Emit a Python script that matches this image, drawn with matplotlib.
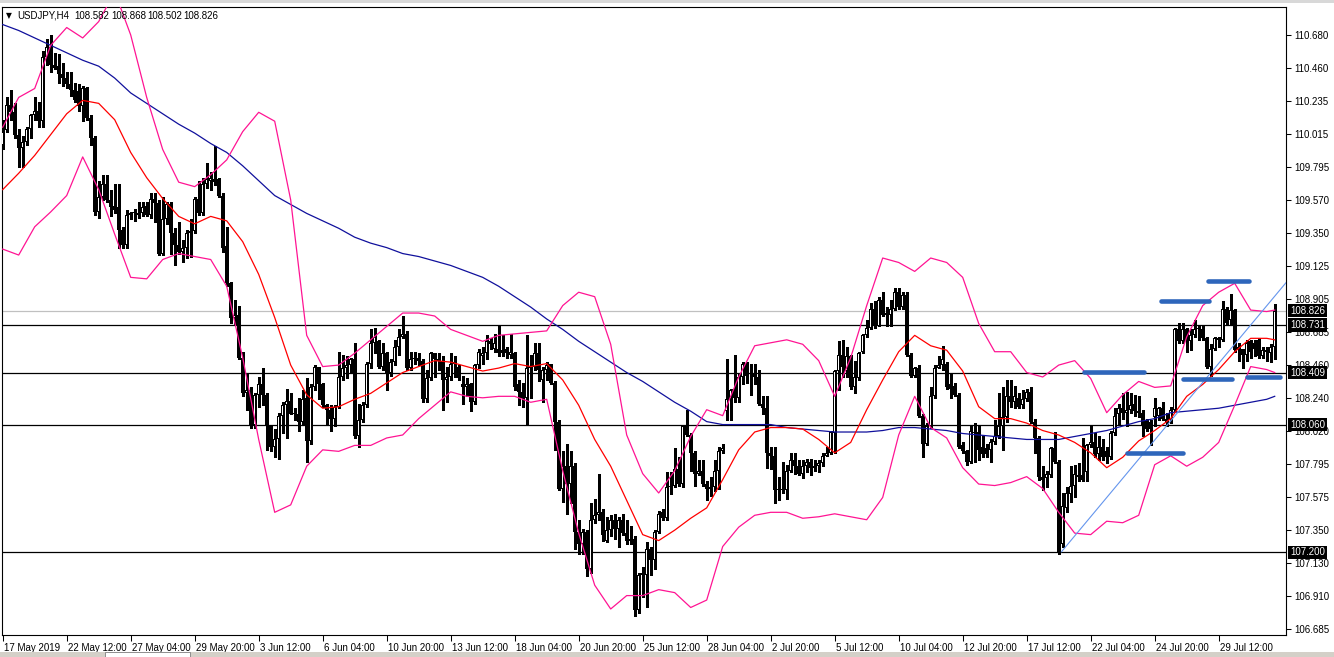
import numpy as np
import matplotlib
matplotlib.use("Agg")
import matplotlib.pyplot as plt
from matplotlib.transforms import blended_transform_factory, ScaledTranslation
from matplotlib.patches import Rectangle

plt.rcParams['font.family'] = ['Liberation Sans', 'DejaVu Sans']

symbol_title = "USDJPY,H4"
header_values = ["108.582", "108.868", "108.502", "108.826"]

opens = [
109.94, 110.04, 110.21, 110.16, 110.01, 109.92, 109.96, 110.05, 110.14, 110.17,
110.10, 110.53, 110.60, 110.48, 110.47, 110.42, 110.39, 110.35, 110.31, 110.30,
110.20, 110.32, 110.12, 109.99, 109.49, 109.59, 109.68, 109.57, 109.53, 109.52,
109.37, 109.27, 109.47, 109.48, 109.47, 109.48, 109.53, 109.47, 109.58, 109.55,
109.21, 109.44, 109.54, 109.35, 109.27, 109.22, 109.25, 109.35, 109.36, 109.58,
109.48, 109.68, 109.70, 109.71, 109.71, 109.60, 109.26, 109.01, 108.78, 108.80,
108.51, 108.27, 108.29, 108.06, 108.26, 108.33, 108.26, 108.05, 107.91, 107.96,
108.12, 108.19, 108.22, 108.13, 108.13, 108.08, 108.24, 107.95, 108.31, 108.45,
108.33, 108.19, 108.16, 108.10, 108.18, 108.38, 108.44, 108.46, 108.50, 107.98,
108.09, 108.19, 108.47, 108.61, 108.62, 108.45, 108.54, 108.41, 108.48, 108.58,
108.65, 108.67, 108.44, 108.50, 108.51, 108.49, 108.23, 108.37, 108.54, 108.50,
108.49, 108.36, 108.38, 108.47, 108.45, 108.33, 108.31, 108.33, 108.21, 108.46,
108.52, 108.54, 108.62, 108.57, 108.57, 108.56, 108.57, 108.53, 108.54, 108.33,
108.28, 108.24, 108.44, 108.45, 108.54, 108.36, 108.43, 108.47, 108.34, 108.08,
107.63, 107.78, 107.66, 107.78, 107.34, 107.26, 107.34, 107.09, 107.42, 107.45,
107.47, 107.28, 107.35, 107.42, 107.36, 107.42, 107.33, 107.28, 107.29, 106.81,
107.05, 107.05, 107.22, 107.15, 107.34, 107.47, 107.43, 107.64, 107.65, 107.76,
107.66, 108.05, 107.99, 107.87, 107.73, 107.75, 107.66, 107.63, 107.64, 107.75,
107.88, 108.15, 108.23, 108.29, 108.24, 108.38, 108.47, 108.41, 108.41, 108.38,
108.20, 108.17, 107.87, 107.85, 107.62, 107.63, 107.62, 107.75, 107.82, 107.78,
107.73, 107.78, 107.81, 107.77, 107.78, 107.80, 107.85, 107.87, 108.00, 108.42,
108.53, 108.42, 108.52, 108.31, 108.37, 108.55, 108.66, 108.71, 108.84, 108.72,
108.90, 108.80, 108.80, 108.84, 108.95, 108.85, 108.93, 108.53, 108.39, 108.44,
108.12, 107.93, 108.05, 108.25, 108.44, 108.46, 108.47, 108.33, 108.32, 108.26,
107.92, 107.88, 107.81, 108.00, 108.01, 107.91, 107.90, 107.89, 107.94, 107.98,
108.05, 108.11, 108.25, 108.21, 108.24, 108.19, 108.23, 108.28, 108.08, 107.97,
107.71, 107.70, 107.72, 107.90, 107.81, 107.26, 107.50, 107.59, 107.65, 107.72,
107.72, 107.74, 107.92, 107.94, 107.86, 107.91, 107.88, 107.84, 108.00, 108.13,
108.17, 108.14, 108.16, 108.20, 108.15, 108.14, 108.09, 108.08, 108.11, 108.12,
108.17, 108.10, 108.09, 108.16, 108.70, 108.62, 108.70, 108.62, 108.66, 108.70,
108.70, 108.64, 108.45, 108.57, 108.63, 108.63, 108.84, 108.76, 108.83, 108.58,
108.57, 108.53, 108.62, 108.61, 108.63, 108.52, 108.55, 108.54, 108.582]

highs = [
110.11, 110.26, 110.31, 110.22, 110.05, 110.00, 110.06, 110.15, 110.26, 110.23,
110.57, 110.65, 110.68, 110.56, 110.55, 110.49, 110.43, 110.43, 110.36, 110.35,
110.34, 110.33, 110.14, 110.00, 109.70, 109.74, 109.74, 109.64, 109.68, 109.68,
109.39, 109.50, 109.49, 109.51, 109.56, 109.56, 109.56, 109.62, 109.62, 109.57,
109.59, 109.56, 109.56, 109.38, 109.42, 109.30, 109.37, 109.44, 109.59, 109.70,
109.72, 109.82, 109.76, 109.93, 109.72, 109.62, 109.39, 109.02, 108.90, 108.86,
108.55, 108.41, 108.31, 108.27, 108.38, 108.44, 108.27, 108.06, 108.03, 108.14,
108.21, 108.30, 108.27, 108.17, 108.24, 108.29, 108.37, 108.33, 108.46, 108.45,
108.34, 108.20, 108.19, 108.19, 108.55, 108.53, 108.52, 108.51, 108.61, 108.20,
108.21, 108.48, 108.70, 108.71, 108.63, 108.61, 108.55, 108.50, 108.63, 108.70,
108.79, 108.69, 108.55, 108.55, 108.54, 108.50, 108.43, 108.55, 108.54, 108.54,
108.52, 108.45, 108.54, 108.52, 108.46, 108.39, 108.37, 108.34, 108.47, 108.57,
108.58, 108.66, 108.64, 108.67, 108.72, 108.66, 108.58, 108.67, 108.55, 108.36,
108.34, 108.66, 108.53, 108.61, 108.61, 108.45, 108.48, 108.47, 108.35, 108.09,
107.88, 107.93, 107.88, 107.80, 107.42, 107.36, 107.35, 107.53, 107.56, 107.73,
107.49, 107.44, 107.45, 107.46, 107.44, 107.46, 107.42, 107.38, 107.31, 107.06,
107.10, 107.27, 107.24, 107.35, 107.48, 107.49, 107.74, 107.74, 107.90, 107.84,
108.06, 108.16, 108.00, 107.88, 107.82, 107.82, 107.68, 107.71, 107.82, 107.91,
107.93, 108.50, 108.30, 108.53, 108.40, 108.48, 108.48, 108.47, 108.47, 108.43,
108.25, 108.25, 107.91, 107.91, 107.71, 107.81, 107.79, 107.87, 107.87, 107.82,
107.82, 107.83, 107.83, 107.82, 107.82, 107.87, 107.91, 108.02, 108.43, 108.62,
108.63, 108.58, 108.53, 108.49, 108.55, 108.67, 108.76, 108.88, 108.89, 108.92,
108.95, 108.85, 108.90, 108.98, 108.98, 108.95, 108.95, 108.54, 108.45, 108.46,
108.13, 108.07, 108.31, 108.46, 108.52, 108.59, 108.48, 108.40, 108.34, 108.27,
107.94, 107.89, 108.05, 108.07, 108.05, 107.98, 107.93, 107.96, 108.09, 108.27,
108.31, 108.36, 108.36, 108.32, 108.27, 108.29, 108.30, 108.31, 108.10, 107.98,
107.78, 107.75, 107.91, 108.01, 107.82, 107.60, 107.64, 107.78, 107.79, 107.80,
107.97, 107.93, 108.05, 108.00, 107.98, 107.96, 107.91, 108.02, 108.17, 108.20,
108.27, 108.28, 108.27, 108.26, 108.25, 108.16, 108.10, 108.09, 108.24, 108.18,
108.21, 108.14, 108.18, 108.71, 108.74, 108.74, 108.71, 108.70, 108.76, 108.73,
108.73, 108.65, 108.60, 108.65, 108.65, 108.89, 108.85, 108.94, 108.84, 108.61,
108.57, 108.63, 108.63, 108.63, 108.64, 108.58, 108.58, 108.60, 108.868]

lows = [
109.91, 110.03, 110.11, 109.99, 109.79, 109.79, 109.94, 109.99, 110.11, 110.06,
110.06, 110.48, 110.43, 110.45, 110.36, 110.34, 110.32, 110.27, 110.23, 110.17,
110.10, 110.11, 109.94, 109.47, 109.45, 109.57, 109.56, 109.46, 109.48, 109.25,
109.25, 109.25, 109.44, 109.43, 109.45, 109.46, 109.46, 109.45, 109.42, 109.20,
109.20, 109.41, 109.21, 109.13, 109.21, 109.15, 109.18, 109.19, 109.35, 109.47,
109.47, 109.65, 109.64, 109.67, 109.59, 109.22, 108.99, 108.74, 108.73, 108.50,
108.25, 108.16, 108.04, 108.04, 108.18, 108.19, 107.89, 107.88, 107.84, 107.83,
108.00, 107.97, 108.13, 108.09, 108.02, 108.06, 107.81, 107.93, 108.29, 108.23,
108.18, 108.06, 108.02, 108.05, 108.17, 108.36, 108.37, 108.41, 107.97, 107.91,
108.08, 108.18, 108.44, 108.54, 108.44, 108.43, 108.29, 108.39, 108.46, 108.53,
108.64, 108.43, 108.43, 108.47, 108.46, 108.21, 108.21, 108.36, 108.38, 108.43,
108.16, 108.21, 108.36, 108.38, 108.36, 108.20, 108.25, 108.15, 108.20, 108.44,
108.47, 108.50, 108.57, 108.55, 108.52, 108.52, 108.51, 108.51, 108.29, 108.19,
108.18, 108.06, 108.24, 108.43, 108.35, 108.21, 108.36, 108.33, 107.89, 107.62,
107.54, 107.46, 107.53, 107.22, 107.19, 107.19, 107.04, 107.06, 107.40, 107.42,
107.28, 107.27, 107.31, 107.29, 107.24, 107.32, 107.26, 107.26, 106.77, 106.79,
106.90, 106.83, 107.05, 107.09, 107.33, 107.42, 107.42, 107.59, 107.64, 107.65,
107.64, 107.98, 107.75, 107.65, 107.72, 107.65, 107.55, 107.58, 107.61, 107.63,
107.87, 108.09, 108.09, 108.21, 108.21, 108.33, 108.34, 108.26, 108.33, 108.19,
108.13, 107.77, 107.76, 107.53, 107.55, 107.60, 107.56, 107.74, 107.73, 107.72,
107.70, 107.74, 107.72, 107.75, 107.74, 107.78, 107.85, 107.86, 107.87, 108.29,
108.38, 108.38, 108.30, 108.27, 108.36, 108.54, 108.65, 108.70, 108.71, 108.72,
108.79, 108.72, 108.72, 108.83, 108.84, 108.84, 108.52, 108.38, 108.38, 108.11,
107.84, 107.92, 108.04, 108.24, 108.44, 108.43, 108.30, 108.24, 108.25, 107.90,
107.87, 107.79, 107.80, 107.81, 107.82, 107.84, 107.84, 107.81, 107.93, 107.97,
107.89, 108.08, 108.18, 108.17, 108.17, 108.17, 108.22, 108.07, 107.87, 107.69,
107.62, 107.64, 107.71, 107.80, 107.19, 107.24, 107.47, 107.54, 107.57, 107.68,
107.68, 107.68, 107.91, 107.84, 107.82, 107.82, 107.80, 107.83, 107.99, 108.06,
108.10, 108.05, 108.14, 108.12, 108.11, 107.98, 108.02, 107.92, 108.05, 108.09,
108.09, 108.05, 108.07, 108.15, 108.61, 108.61, 108.55, 108.56, 108.65, 108.63,
108.63, 108.44, 108.39, 108.56, 108.58, 108.62, 108.73, 108.73, 108.55, 108.49,
108.44, 108.49, 108.51, 108.52, 108.51, 108.51, 108.49, 108.48, 108.502]

closes = [
110.03, 110.21, 110.16, 110.01, 109.92, 109.96, 110.05, 110.14, 110.17, 110.10,
110.53, 110.60, 110.48, 110.46, 110.42, 110.39, 110.35, 110.31, 110.24, 110.20,
110.32, 110.12, 109.99, 109.49, 109.59, 109.68, 109.57, 109.52, 109.50, 109.37,
109.27, 109.47, 109.48, 109.49, 109.48, 109.52, 109.47, 109.58, 109.55, 109.21,
109.44, 109.54, 109.35, 109.27, 109.22, 109.25, 109.35, 109.36, 109.58, 109.48,
109.68, 109.71, 109.72, 109.69, 109.60, 109.25, 109.01, 108.78, 108.80, 108.51,
108.27, 108.29, 108.06, 108.26, 108.33, 108.26, 108.05, 107.91, 107.96, 108.12,
108.19, 108.22, 108.13, 108.14, 108.08, 108.23, 107.95, 108.31, 108.45, 108.33,
108.19, 108.16, 108.10, 108.18, 108.38, 108.44, 108.46, 108.50, 107.98, 108.09,
108.19, 108.47, 108.61, 108.65, 108.45, 108.54, 108.41, 108.48, 108.58, 108.65,
108.67, 108.44, 108.50, 108.51, 108.49, 108.23, 108.37, 108.54, 108.50, 108.49,
108.36, 108.38, 108.47, 108.48, 108.37, 108.31, 108.33, 108.21, 108.46, 108.55,
108.54, 108.62, 108.60, 108.61, 108.54, 108.54, 108.54, 108.55, 108.31, 108.28,
108.24, 108.44, 108.45, 108.54, 108.43, 108.43, 108.46, 108.34, 108.08, 107.63,
107.78, 107.66, 107.78, 107.34, 107.26, 107.34, 107.09, 107.42, 107.45, 107.47,
107.32, 107.35, 107.42, 107.36, 107.42, 107.33, 107.28, 107.29, 106.81, 107.05,
107.06, 107.22, 107.15, 107.34, 107.46, 107.43, 107.64, 107.65, 107.76, 107.66,
108.05, 107.99, 107.87, 107.73, 107.75, 107.66, 107.63, 107.64, 107.75, 107.88,
107.90, 108.23, 108.29, 108.24, 108.38, 108.47, 108.39, 108.40, 108.38, 108.20,
108.17, 107.87, 107.85, 107.62, 107.63, 107.62, 107.75, 107.82, 107.78, 107.73,
107.78, 107.81, 107.77, 107.78, 107.80, 107.85, 107.87, 108.01, 108.42, 108.53,
108.45, 108.52, 108.31, 108.38, 108.54, 108.66, 108.71, 108.84, 108.72, 108.90,
108.80, 108.81, 108.84, 108.95, 108.85, 108.93, 108.53, 108.39, 108.44, 108.12,
107.93, 108.05, 108.25, 108.44, 108.46, 108.50, 108.31, 108.30, 108.26, 107.91,
107.88, 107.81, 108.02, 108.01, 107.89, 107.86, 107.86, 107.94, 107.98, 108.05,
108.11, 108.25, 108.21, 108.25, 108.18, 108.23, 108.28, 108.08, 107.97, 107.71,
107.69, 107.73, 107.90, 107.81, 107.20, 107.51, 107.60, 107.65, 107.73, 107.71,
107.69, 107.92, 107.94, 107.86, 107.91, 107.84, 107.84, 108.00, 108.12, 108.17,
108.14, 108.16, 108.19, 108.15, 108.14, 108.05, 108.03, 108.03, 108.17, 108.17,
108.10, 108.07, 108.16, 108.70, 108.62, 108.70, 108.62, 108.66, 108.70, 108.705,
108.64, 108.45, 108.57, 108.64, 108.64, 108.84, 108.74, 108.83, 108.56, 108.56,
108.53, 108.61, 108.55, 108.57, 108.52, 108.56, 108.56, 108.58, 108.826]

# indicator readings every 4 bars (last one at the final bar)
ind_bars = list(range(0, 317, 4)) + [318]

bb_upper = [
110.06, 110.26, 110.32, 110.61, 110.73, 110.66, 110.77, 110.97, 110.68, 110.26,
109.91, 109.69, 109.66, 109.74, 109.84, 110.03, 110.16, 110.10, 109.57, 108.66,
108.45, 108.46, 108.54, 108.63, 108.72, 108.81, 108.81, 108.79, 108.70, 108.66,
108.62, 108.66, 108.67, 108.68, 108.69, 108.86, 108.95, 108.92, 108.60, 107.99,
107.73, 107.60, 107.75, 107.98, 108.16, 108.12, 108.38, 108.59, 108.61, 108.63,
108.60, 108.49, 108.25, 108.51, 108.86, 109.18, 109.15, 109.09, 109.18, 109.15,
109.05, 108.74, 108.55, 108.55, 108.41, 108.38, 108.46, 108.49, 108.37, 108.14,
108.26, 108.35, 108.31, 108.32, 108.65, 108.86, 108.95, 109.01, 108.83, 108.82,
108.83]

bb_lower = [
109.24, 109.20, 109.39, 109.49, 109.60, 109.86, 109.64, 109.34, 109.05, 109.04,
109.17, 109.21, 109.19, 109.17, 108.99, 108.51, 107.96, 107.47, 107.52, 107.78,
107.89, 107.88, 107.92, 107.92, 107.97, 107.99, 108.10, 108.19, 108.28, 108.25,
108.24, 108.25, 108.25, 108.21, 108.23, 107.75, 107.33, 106.98, 106.82, 106.91,
106.91, 106.95, 106.93, 106.83, 106.88, 107.24, 107.37, 107.45, 107.47, 107.47,
107.43, 107.44, 107.46, 107.44, 107.42, 107.57, 107.99, 108.25, 108.04, 107.97,
107.77, 107.66, 107.65, 107.67, 107.71, 107.63, 107.47, 107.33, 107.32, 107.41,
107.40, 107.45, 107.79, 107.85, 107.78, 107.84, 107.94, 108.19, 108.45, 108.43,
108.41]

ma_fast = [
109.64, 109.75, 109.87, 110.01, 110.15, 110.24, 110.22, 110.11, 109.89, 109.72,
109.58, 109.46, 109.41, 109.46, 109.43, 109.29, 109.07, 108.78, 108.46, 108.26,
108.17, 108.18, 108.23, 108.27, 108.34, 108.41, 108.45, 108.49, 108.48, 108.45,
108.42, 108.44, 108.47, 108.45, 108.47, 108.36, 108.19, 107.96, 107.78, 107.55,
107.32, 107.28, 107.35, 107.43, 107.50, 107.69, 107.89, 108.01, 108.04, 108.04,
108.03, 107.96, 107.87, 107.94, 108.16, 108.36, 108.55, 108.66, 108.59, 108.56,
108.42, 108.18, 108.10, 108.10, 108.07, 108.02, 107.99, 107.94, 107.87, 107.77,
107.84, 107.95, 108.02, 108.10, 108.25, 108.33, 108.43, 108.55, 108.64, 108.64,
108.63]

ma_slow = [
110.75, 110.71, 110.66, 110.61, 110.56, 110.51, 110.47, 110.39, 110.29, 110.22,
110.15, 110.08, 110.02, 109.95, 109.89, 109.80, 109.70, 109.60, 109.54, 109.48,
109.43, 109.38, 109.32, 109.28, 109.25, 109.21, 109.19, 109.16, 109.13, 109.09,
109.05, 108.99, 108.92, 108.85, 108.77, 108.70, 108.62, 108.55, 108.48, 108.41,
108.35, 108.28, 108.21, 108.15, 108.08, 108.06, 108.06, 108.06, 108.06, 108.04,
108.03, 108.02, 108.01, 108.01, 108.01, 108.02, 108.04, 108.04, 108.03, 108.02,
108.00, 107.99, 107.98, 107.97, 107.96, 107.96, 107.96, 107.98, 108.00, 108.02,
108.05, 108.08, 108.10, 108.14, 108.15, 108.16, 108.17, 108.19, 108.21, 108.23,
108.25]

hline_levels = [108.731, 108.409, 108.060, 107.200]
bid_price = 108.826

xtick_bars = list(range(0, 305, 16))
xtick_labels = ["17 May 2019", "22 May 12:00", "27 May 04:00", "29 May 20:00",
                "3 Jun 12:00", "6 Jun 04:00", "10 Jun 20:00", "13 Jun 12:00",
                "18 Jun 04:00", "20 Jun 20:00", "25 Jun 12:00", "28 Jun 04:00",
                "2 Jul 20:00", "5 Jul 12:00", "10 Jul 04:00", "12 Jul 20:00",
                "17 Jul 12:00", "22 Jul 04:00", "24 Jul 20:00", "29 Jul 12:00"]
ytick_values = [110.680, 110.460, 110.235, 110.015, 109.795, 109.570, 109.350,
                109.125, 108.905, 108.685, 108.460, 108.240, 108.020, 107.795,
                107.575, 107.350, 107.130, 106.910, 106.685]

zone_levels = [109.025, 108.891, 108.414, 108.367, 108.380, 107.869]
zone_start = [301.3, 289.6, 270.3, 295.0, 311.0, 281.0]
zone_end = [311.6, 301.6, 285.3, 307.3, 319.3, 295.0]

trend_bars = [264.7, 319.3]
trend_prices = [107.205, 108.965]

assert len(opens) == len(highs) == len(lows) == len(closes)
assert len(ind_bars) == len(bb_upper) == len(bb_lower) == len(ma_fast) == len(ma_slow)

W, H = 1334, 657
fig = plt.figure(figsize=(W / 100, H / 100), dpi=100)
fig.patch.set_facecolor('white')
ax = fig.add_axes([2 / W, (H - 635) / H, 1284 / W, 628 / H])
XMIN, XMAX = -0.175, 320.825
YMIN, YMAX = 106.645, 110.868
ax.set_xlim(XMIN, XMAX)
ax.set_ylim(YMIN, YMAX)
dy = (YMAX - YMIN) / 628.0   # one pixel in price units

o = np.array(opens); h = np.array(highs); l = np.array(lows); c = np.array(closes)
x = np.arange(len(c))
up = c >= o
lo = np.minimum(o, c)
ht = np.maximum(np.abs(c - o), dy)

# horizontal levels (behind candles)
ax.axhline(bid_price, color='#c0c0c0', lw=0.9, zorder=1.2)
for p in hline_levels:
    ax.axhline(p, color='black', lw=0.9, zorder=1.5)

# candles: wicks, black outer bodies, white interiors for rising bars
ax.vlines(x, l, h, color='black', lw=0.75, zorder=2, antialiased=False)
ax.bar(x, ht, bottom=lo, width=0.75, color='black', linewidth=0, zorder=3,
       antialiased=False)
hollow = up & (ht > 2.5 * dy)
ax.bar(x[hollow], ht[hollow] - 2 * dy, bottom=lo[hollow] + dy, width=0.25,
       color='white', linewidth=0, zorder=3.1, antialiased=False)

# indicators
ax.plot(ind_bars, ma_slow, color='#10109c', lw=0.9, zorder=4)
ax.plot(ind_bars, bb_upper, color='#ff1493', lw=0.9, zorder=4)
ax.plot(ind_bars, bb_lower, color='#ff1493', lw=0.9, zorder=4)
ax.plot(ind_bars, ma_fast, color='#ff0000', lw=0.9, zorder=4)

# trend line (ray to the right edge)
slope = (trend_prices[1] - trend_prices[0]) / (trend_bars[1] - trend_bars[0])
ax.plot([trend_bars[0], XMAX], [trend_prices[0], trend_prices[0] + slope * (XMAX - trend_bars[0])],
        color='#6495ed', lw=0.8, zorder=5)

# thick zone marks
for lv, s, e in zip(zone_levels, zone_start, zone_end):
    ax.plot([s, e], [lv, lv], color='#2e66bb', lw=3.3, solid_capstyle='round', zorder=6)

# axes styling
for sp in ax.spines.values():
    sp.set_color('black')
    sp.set_linewidth(0.8)
ax.yaxis.tick_right()
ax.set_yticks(ytick_values)
ax.set_yticklabels([f"{v:.3f}" for v in ytick_values])
ax.tick_params(axis='y', direction='out', length=3.5, width=0.75, pad=2.5, labelsize=7, colors='black')
ax.set_xticks(xtick_bars)
ax.set_xticklabels(xtick_labels)
ax.tick_params(axis='x', direction='out', length=4, width=0.75, pad=1.5, labelsize=7, colors='black')
off = ScaledTranslation(1.5 / 100, 0, fig.dpi_scale_trans)
for lab in ax.get_xticklabels():
    lab.set_horizontalalignment('left')
    lab.set_transform(lab.get_transform() + off)

# price boxes
trans = blended_transform_factory(ax.transAxes, ax.transData)
for p in [bid_price] + hline_levels:
    ax.text(1.0 + 4 / 1284, p, f"{p:.3f}", transform=trans, ha='left', va='center',
            fontsize=7, color='white', zorder=10, clip_on=False,
            bbox=dict(boxstyle='square,pad=0.18', fc='black', ec='none'))

# header
hy = 1 - 16 / H
fig.text(6 / W, hy, "\u25BC", fontsize=5.5, va='center', ha='left', family='DejaVu Sans')
fig.text(17 / W, hy, symbol_title, fontsize=7, va='center', ha='left')
for xpx, s in zip([74, 111, 147, 183], header_values):
    fig.text(xpx / W, hy, s, fontsize=7, va='center', ha='left')

# window chrome
fig.patches.append(Rectangle((0, 1 - 3 / H), 1, 3 / H, transform=fig.transFigure,
                             fc='#d8d8d8', ec='none'))
fig.patches.append(Rectangle((0, 0), 1, 5 / H, transform=fig.transFigure,
                             fc='#d4d0c8', ec='none'))
fig.patches.append(Rectangle((105 / W, 0), 85 / W, 5 / H, transform=fig.transFigure,
                             fc='white', ec='#808080', lw=0.6))

fig.savefig("out.png", dpi=100, facecolor='white')
